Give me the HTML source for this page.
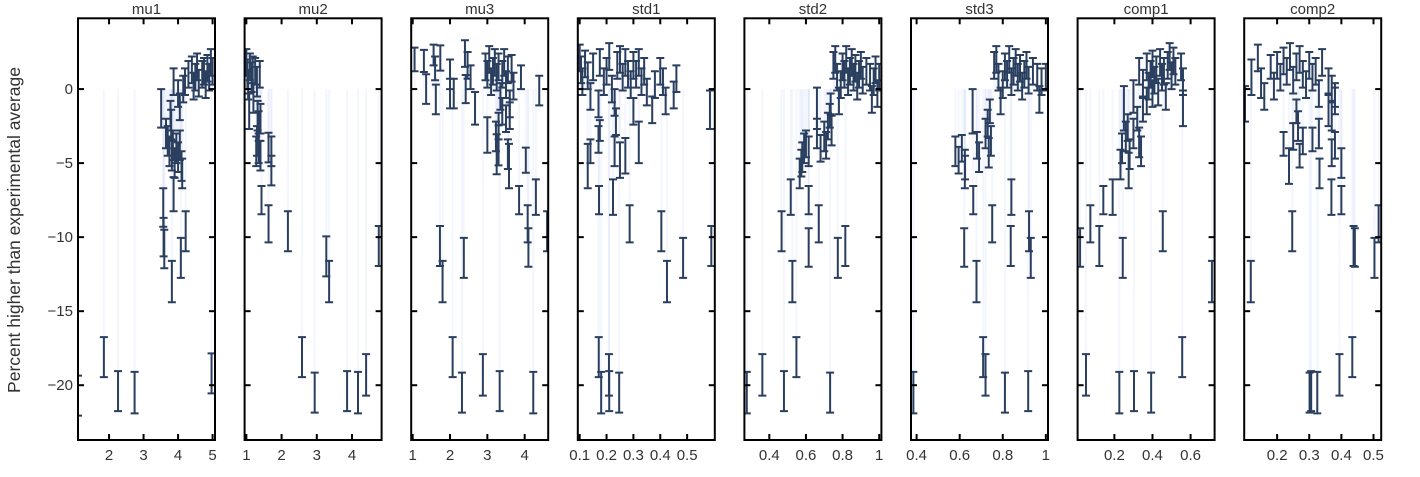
<!DOCTYPE html>
<html><head><meta charset="utf-8"><style>
body{margin:0;background:#fff;width:1420px;height:472px;overflow:hidden}
svg text{font-family:"Liberation Sans",Arial,sans-serif;fill:#333}
</style></head><body>
<svg id="chart" width="1420" height="472" xmlns="http://www.w3.org/2000/svg">
<text x="20" y="230" font-size="17.5" text-anchor="middle" transform="rotate(-90 20 230)">Percent higher than experimental average</text>
</svg>
<script>
const panelNames = ["mu1","mu2","mu3","std1","std2","std3","comp1","comp2"];
const yTicks = [0,-5,-10,-15,-20];
const yRange = [-23.7,4.78];

const mu1X=[1.1,1.85,2.26,2.74,4.97,3.51,3.57,3.58,3.6,3.82,3.87,4.08,4.22,4.12,3.65,3.7,3.75,3.8,3.82,3.85,3.9,3.95,4.0,4.05,4.1,3.78,3.87,4.0,4.05,4.15,4.2,4.3,4.4,4.5,4.55,4.6,4.7,4.75,4.8,4.85,4.9,4.95,5.0,4.45];
const mu1Y=[-20.7,-18.1,-20.4,-20.5,-19.2,-1.3,-8.0,-10.0,-10.8,-13.0,-7.1,-11.4,-9.6,-5.7,-3.0,-3.5,-4.2,-2.4,-4.5,-3.8,-5.0,-4.0,-4.6,-3.8,-5.2,-1.8,0.5,-0.3,-1.2,0,0.5,1.0,1.3,0.8,1.5,0.4,1.0,1.2,0.3,1.4,0.8,1.8,1.2,0.2];
const mu1E=[1.35,1.35,1.35,1.4,1.35,1.3,1.3,1.3,1.3,1.4,1.15,1.35,1.35,1.0,1,1,1,1,1,1,1,1,1,1,1,1,0.9,0.9,0.9,0.9,0.9,0.9,0.9,0.9,0.9,0.9,0.9,0.9,0.9,0.9,0.9,0.9,0.9,0.9];

const mu2X=[1.0,1.03,1.05,1.08,1.1,1.15,1.18,1.2,1.25,1.3,1.32,1.35,1.38,1.3,1.35,1.4,1.4,1.28,1.63,1.71,1.71,1.43,1.63,2.18,3.27,3.35,4.76,2.58,2.94,3.86,4.17,4.4];
const mu2Y=[1.8,1.0,0.3,-1.5,1.5,0.8,1.3,-0.6,1.2,0.5,-1.8,-2.5,1.0,-3.5,-4.0,-4.5,-2.0,-4.2,-3.95,-4.2,-5.5,-7.5,-9.1,-9.6,-11.3,-13.0,-10.6,-18.1,-20.5,-20.4,-20.5,-19.3];
const mu2E=[0.9,1,1,1.2,0.9,1,0.9,1,0.9,1,1,1,0.9,1,1,1,1,1,1.0,1.0,1.0,0.95,1.25,1.35,1.35,1.4,1.35,1.35,1.35,1.35,1.4,1.4];

const mu3X=[2.07,2.32,2.88,3.33,4.23,1.73,1.8,2.37,3.85,4.08,4.1,4.3,4.6,4.03,3.58,3.55,3.25,3.3,3.0,3.23,1.05,1.3,1.36,1.56,1.6,1.62,1.74,2.0,2.0,2.1,2.4,2.47,2.42,2.67,2.55,2.95,3.0,3.05,3.1,3.15,3.2,3.25,3.3,3.35,3.4,3.45,3.5,3.55,3.6,3.65,3.7,3.4,3.5,3.6,3.3,3.9,4.39];
const mu3Y=[-18.1,-20.5,-19.3,-20.4,-20.5,-10.6,-13.0,-11.4,-7.5,-9.1,-10.7,-7.3,-9.6,-4.8,-5.2,-4.4,-4.4,-3.8,-3.1,-3.2,2.0,1.9,0.0,2.3,1.4,-0.7,2.1,1.0,-0.3,-0.3,2.4,1.6,0.0,-1.3,0.8,1.5,1.0,2.0,0.5,1.2,1.8,0.8,1.5,-0.5,1.0,1.8,0.3,1.3,-1.0,1.4,0.2,-1.5,-2.0,-1.8,-2.5,0.8,-0.1];
const mu3E=[1.35,1.35,1.4,1.35,1.4,1.35,1.4,1.35,0.95,1.25,1.3,1.2,1.35,0.85,1.5,1.0,1.35,1.35,1.2,1.0,0.8,0.75,1.0,0.7,0.8,1.0,0.85,1.0,1.0,1.0,0.9,0.9,0.95,1.1,0.8,0.9,0.9,0.9,0.9,0.9,0.9,0.9,0.9,0.9,0.9,0.9,0.9,0.9,0.9,0.9,0.9,0.9,0.9,0.9,0.9,0.8,1.0];

const std1X=[0.171,0.18,0.209,0.21,0.247,0.172,0.224,0.286,0.404,0.425,0.485,0.59,0.585,0.13,0.14,0.17,0.175,0.23,0.25,0.27,0.235,0.32,0.3,0.1,0.105,0.11,0.12,0.13,0.14,0.15,0.17,0.175,0.19,0.2,0.21,0.22,0.23,0.24,0.25,0.26,0.27,0.28,0.29,0.3,0.31,0.32,0.33,0.34,0.35,0.37,0.38,0.4,0.41,0.42,0.46,0.45];
const std1Y=[-18.1,-20.5,-19.3,-20.4,-20.5,-7.5,-7.3,-9.1,-9.6,-13.0,-11.4,-10.6,-1.4,-5.2,-4.2,-3.4,-2.8,-4.2,-4.8,-4.5,-2.2,-3.6,-1.5,2.1,1.3,0.5,1.7,0.9,-0.5,1.5,-1.0,1.8,0.5,1.2,2.2,0,-0.9,1.6,2.0,0.8,1.8,1.0,0.3,1.6,1.0,1.8,0.5,1.2,-0.2,-1.4,0.3,1.2,0.5,-0.8,0.7,-0.4];
const std1E=[1.35,1.4,1.4,1.35,1.35,0.95,1.2,1.25,1.35,1.4,1.35,1.35,1.3,1.5,0.8,0.9,0.7,1.0,1.2,1.2,0.9,1.4,0.9,0.9,0.9,0.9,0.9,0.9,0.9,0.9,0.9,0.9,0.9,0.9,0.9,0.9,0.9,0.9,0.9,0.9,0.9,0.9,0.9,0.9,0.9,0.9,0.9,0.9,0.9,0.9,0.9,0.9,0.9,0.9,0.9,0.9];

const std2X=[0.277,0.362,0.48,0.548,0.732,0.467,0.517,0.526,0.615,0.615,0.67,0.774,0.815,0.566,0.58,0.59,0.6,0.615,0.575,0.66,0.66,0.68,0.7,0.71,0.72,0.73,0.735,0.74,0.75,0.76,0.77,0.78,0.79,0.8,0.81,0.82,0.83,0.84,0.85,0.86,0.87,0.88,0.89,0.9,0.91,0.93,0.95,0.96,0.97,0.98,0.99,1.0];
const std2Y=[-20.5,-19.3,-20.4,-18.1,-20.5,-9.6,-7.3,-13.0,-7.5,-10.7,-9.1,-11.4,-10.6,-5.7,-4.6,-4.0,-3.7,-4.2,-5.0,-1.3,-3.0,-4.0,-3.2,-3.8,-2.5,-1.8,-1.0,-2.8,1.6,2.0,0.8,-0.8,0.3,1.5,1.0,2.0,0.5,1.2,1.8,0.8,1.4,0.2,1.0,1.6,0.6,1.2,0.8,-0.7,0.5,1.3,-0.3,0.8];
const std2E=[1.4,1.4,1.35,1.35,1.35,1.35,1.2,1.4,0.95,1.3,1.25,1.35,1.35,1.0,1.0,1.0,0.9,1.0,0.9,1.4,1.0,0.9,1.0,0.9,0.9,0.8,0.7,1.0,0.9,0.9,0.9,0.9,0.9,0.9,0.9,0.9,0.9,0.9,0.9,0.9,0.9,0.9,0.9,0.9,0.9,0.9,0.9,0.9,0.9,0.9,0.9,0.9];

const std3X=[0.385,0.709,0.72,0.81,0.918,0.621,0.678,0.663,0.751,0.84,0.837,0.922,0.93,0.624,0.58,0.595,0.61,0.625,0.66,0.68,0.69,0.72,0.73,0.74,0.745,0.735,0.76,0.77,0.78,0.79,0.8,0.81,0.82,0.83,0.84,0.85,0.86,0.87,0.88,0.89,0.9,0.91,0.92,0.94,0.96,0.97,0.98,1.0];
const std3Y=[-20.5,-18.1,-19.3,-20.5,-20.4,-10.7,-13.0,-7.5,-9.1,-7.3,-10.6,-9.6,-11.4,-5.4,-4.2,-4.8,-4.0,-5.3,-1.5,-3.8,-4.6,-3.0,-2.3,-1.5,-3.5,-4.3,1.6,2.0,0.8,-0.8,0.3,1.5,1.0,2.0,0.5,1.2,1.8,0.8,1.4,0.2,1.0,1.6,0.6,1.2,0.8,-0.7,0.5,0.8];
const std3E=[1.4,1.35,1.4,1.35,1.35,1.3,1.4,0.95,1.25,1.2,1.35,1.35,1.35,1.3,1.0,0.9,0.9,0.8,1.5,0.9,1.0,1.0,0.9,0.8,1.0,1.0,0.9,0.9,0.9,0.9,0.9,0.9,0.9,0.9,0.9,0.9,0.9,0.9,0.9,0.9,0.9,0.9,0.9,0.9,0.9,0.9,0.9,0.9];

const comp1X=[0.051,0.226,0.303,0.393,0.556,0.712,0.02,0.074,0.121,0.142,0.191,0.244,0.454,0.232,0.275,0.24,0.26,0.27,0.28,0.3,0.32,0.33,0.34,0.35,0.3,0.25,0.33,0.35,0.37,0.38,0.39,0.4,0.41,0.42,0.43,0.44,0.45,0.46,0.47,0.48,0.49,0.5,0.51,0.52,0.55,0.56,0.56,0.37,0.4];
const comp1Y=[-19.3,-20.5,-20.4,-20.5,-18.1,-13.0,-10.7,-9.1,-10.6,-7.5,-7.3,-11.4,-9.6,-5.1,-5.5,-4.0,-3.2,-2.6,-4.4,-3.0,-2.0,-3.6,-4.2,-1.4,-0.5,-1.3,1.2,0.4,1.5,0.2,1.0,1.7,0.6,1.3,-0.2,1.8,0.8,1.2,-0.5,1.6,2.2,0.9,1.9,1.2,1.5,0.5,-1.3,-0.8,-0.3];
const comp1E=[1.4,1.4,1.35,1.35,1.35,1.4,1.3,1.25,1.35,0.95,1.2,1.35,1.35,1.0,1.2,1.0,1.0,0.9,1.0,1.0,0.8,1.0,1.0,0.8,1.1,1.5,0.9,0.9,0.9,0.9,0.9,0.9,0.9,0.9,0.9,0.9,0.9,0.9,0.9,0.9,0.9,0.9,0.9,0.9,0.9,0.9,1.2,0.9,0.9];

const comp2X=[0.118,0.301,0.306,0.325,0.394,0.434,0.247,0.369,0.4,0.438,0.442,0.503,0.516,0.332,0.4,0.237,0.27,0.22,0.25,0.26,0.265,0.28,0.31,0.33,0.36,0.37,0.38,0.37,0.38,0.1,0.12,0.14,0.15,0.16,0.18,0.19,0.2,0.21,0.22,0.23,0.24,0.25,0.26,0.27,0.28,0.29,0.3,0.31,0.32,0.33,0.34,0.36,0.37,0.38];
const comp2Y=[-13.0,-20.5,-20.4,-20.5,-19.3,-18.1,-9.6,-7.3,-7.5,-10.6,-10.7,-11.4,-9.1,-5.7,-5.0,-5.2,-4.5,-3.7,-3.2,-1.5,-2.5,-3.5,-3.4,-3.0,-1.4,-4.3,-3.8,-1.8,-0.4,-1.0,0.8,2.1,0.4,-0.5,1.5,0.2,1.6,0.8,1.9,1.2,2.2,0.6,1.5,2.0,1.0,0.3,1.6,0.8,1.2,-0.3,1.8,0.5,0.0,-0.8];
const comp2E=[1.4,1.35,1.35,1.4,1.4,1.35,1.35,1.2,0.95,1.35,1.3,1.35,1.25,1.0,1.0,1.2,0.8,0.8,0.9,0.8,1.0,0.9,0.8,1.0,1.1,0.9,0.9,1.0,0.8,1.2,1.2,0.9,1.0,0.9,0.8,0.9,0.9,0.9,0.9,0.9,0.9,0.9,0.9,0.9,0.9,0.9,0.9,0.9,0.9,0.9,0.9,0.9,0.9,0.9];

const xTicks = [[2,3,4,5],[1,2,3,4],[1,2,3,4],[0.1,0.2,0.3,0.4,0.5],[0.4,0.6,0.8,1],[0.4,0.6,0.8,1],[0.2,0.4,0.6],[0.2,0.3,0.4,0.5]];
const xRanges = [[1.1,5.07],[0.95,4.84],[0.96,4.63],[0.093,0.603],[0.264,1.012],[0.374,1.01],[0.007,0.726],[0.0975,0.524]];
const seriesX=[mu1X,mu2X,mu3X,std1X,std2X,std3X,comp1X,comp2X];
const seriesY=[mu1Y,mu2Y,mu3Y,std1Y,std2Y,std3Y,comp1Y,comp2Y];
const seriesE=[mu1E,mu2E,mu3E,std1E,std2E,std3E,comp1E,comp2E];

const NS="http://www.w3.org/2000/svg";
const svg=document.getElementById('chart');
const TOP=18.3,BOT=440,PW=137;
function mk(tag,attrs,parent){const e=document.createElementNS(NS,tag);for(const k in attrs)e.setAttribute(k,attrs[k]);(parent||svg).appendChild(e);return e;}
function yScale(v){return BOT-(v-yRange[0])/(yRange[1]-yRange[0])*(BOT-TOP);}

panelNames.forEach((name,i)=>{
  const L=78+i*166.6, R=L+PW;
  const xr=xRanges[i];
  const xScale=v=>L+(v-xr[0])/(xr[1]-xr[0])*PW;
  const g=mk('g',{});
  
  
  const cp=mk('clipPath',{id:'cp'+i},g);
  mk('rect',{x:L,y:TOP,width:PW,height:BOT-TOP},cp);
  const title=mk('text',{x:(L+R)/2,y:14,'font-size':15,'text-anchor':'middle'},g);
  title.textContent=name;
  
  
  const marks=mk('g',{'clip-path':'url(#cp'+i+')'},g);
  const xs=seriesX[i],ys=seriesY[i],es=seriesE[i];
  const y0=yScale(0);
  xs.forEach((xv,j)=>{
    const x=xScale(xv),y=yScale(ys[j]);
    const b=mk('line',{x1:x,x2:x,y1:y0,y2:y,stroke:'rgba(99,130,230,0.07)','stroke-width':2},marks);
    
    
  });
  xs.forEach((xv,j)=>{
    const x=xScale(xv),yt=yScale(ys[j]+es[j]),yb=yScale(ys[j]-es[j]);
    const eb=mk('path',{d:`M${x},${yt}V${yb}M${x-4},${yt}H${x+4}M${x-4},${yb}H${x+4}`,stroke:'#2a3f5f','stroke-width':2,fill:'none'},marks);
    
    
  });
  const frame=mk('rect',{x:L,y:TOP,width:PW,height:BOT-TOP,fill:'none',stroke:'#000','stroke-width':2},g);
  
  
  yTicks.forEach(t=>{
    const y=yScale(t);
    mk('line',{x1:L,x2:L+6,y1:y,y2:y,stroke:'#000','stroke-width':2},g);
    mk('line',{x1:R-6,x2:R,y1:y,y2:y,stroke:'#000','stroke-width':2},g);
    if(i===0){
      const tl=mk('text',{x:L-5,y:y+5,'font-size':15,'text-anchor':'end'},g);
      tl.textContent=t<0?'\u2212'+Math.abs(t):String(t);
      
      
    }
  });
  xTicks[i].forEach(t=>{
    const x=xScale(t);
    mk('line',{x1:x,x2:x,y1:TOP,y2:TOP+6,stroke:'#000','stroke-width':2},g);
    mk('line',{x1:x,x2:x,y1:BOT-6,y2:BOT,stroke:'#000','stroke-width':2},g);
    const xl=mk('text',{x:x,y:460,'font-size':15,'text-anchor':'middle'},g);
    xl.textContent=String(t);
    
    
  });
});
</script>
</body></html>
